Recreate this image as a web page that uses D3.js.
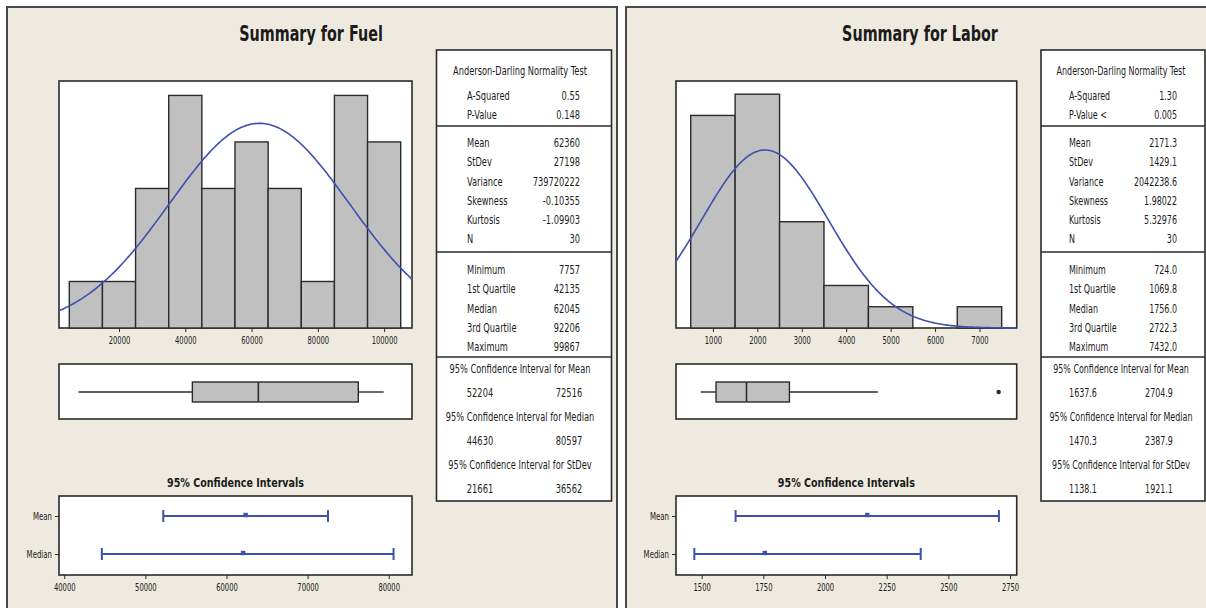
<!DOCTYPE html>
<html><head>
<meta charset="utf-8">
<title>Summary for Fuel / Labor</title>
<script src="https://d3js.org/d3.v7.min.js"></script>
<style>
  body { margin: 0; background: #fff; }
  text { font-family: 'DejaVu Sans Condensed', 'DejaVu Sans', sans-serif; fill: #1b1b1b; }
</style>
</head>
<body>
<svg id="chart" width="1206" height="608"></svg>
<script>
// ---------- data ----------
// histogram bin mid points and counts
var fuelBins = [10000, 20000, 30000, 40000, 50000, 60000, 70000, 80000, 90000, 100000];
var fuelCounts = [1, 1, 3, 5, 3, 4, 3, 1, 5, 4];
var laborBins = [1000, 2000, 3000, 4000, 5000, 6000, 7000];
var laborCounts = [10, 11, 5, 2, 1, 0, 1];

// tick labels
var fuelHistTicks = [20000, 40000, 60000, 80000, 100000];
var laborHistTicks = [1000, 2000, 3000, 4000, 5000, 6000, 7000];
var fuelCITicks = [40000, 50000, 60000, 70000, 80000];
var laborCITicks = [1500, 1750, 2000, 2250, 2500, 2750];

// fitted normal: mean, stdev
var fuelNormal = [62360, 27198];
var laborNormal = [2171.3, 1429.1];

// box plot: low whisker, Q1, median, Q3, high whisker
var fuelBox = [7757, 42135, 62045, 92206, 99867];
var laborBox = [724, 1069.8, 1756.0, 2722.3, 4710];
var fuelOutliers = [];
var laborOutliers = [7432];

// 95% confidence intervals: [low, high, estimate]
var ciRows = ["Mean", "Median"];
var fuelCI = [[52204, 72516, 62360], [44630, 80597, 62045]];
var laborCI = [[1637.6, 2704.9, 2171.3], [1470.3, 2387.9, 1756.0]];

// summary table text
var adTitle = "Anderson-Darling Normality Test";
var fuelADLabels = ["A-Squared", "P-Value"];
var laborADLabels = ["A-Squared", "P-Value <"];
var fuelAD = ["0.55", "0.148"];
var laborAD = ["1.30", "0.005"];
var descLabels = ["Mean", "StDev", "Variance", "Skewness", "Kurtosis", "N"];
var fuelDesc = ["62360", "27198", "739720222", "-0.10355", "-1.09903", "30"];
var laborDesc = ["2171.3", "1429.1", "2042238.6", "1.98022", "5.32976", "30"];
var quartLabels = ["Minimum", "1st Quartile", "Median", "3rd Quartile", "Maximum"];
var fuelQuart = ["7757", "42135", "62045", "92206", "99867"];
var laborQuart = ["724.0", "1069.8", "1756.0", "2722.3", "7432.0"];
var ciTitles = ["95% Confidence Interval for Mean", "95% Confidence Interval for Median", "95% Confidence Interval for StDev"];
var fuelCIText = [["52204", "72516"], ["44630", "80597"], ["21661", "36562"]];
var laborCIText = [["1637.6", "2704.9"], ["1470.3", "2387.9"], ["1138.1", "1921.1"]];

// ---------- drawing ----------
var svg = d3.select("#chart");
var DARK = "#2b2b2b", BLUE = "#3f4fae", GREY = "#c0c0c0", BG = "#eeeae0";

// the original font is a squeezed Tahoma: squeeze glyphs horizontally around their anchor x
function squeeze(sel, k) {
  sel.each(function() {
    var x0 = +this.getAttribute("x") || 0;
    d3.select(this).attr("transform",
      "translate(" + x0 + ",0) scale(" + k + ",1) translate(" + (-x0) + ",0)");
  });
}

function panel(o) {
  var g = svg.append("g");

  // panel background + border
  g.append("rect")
    .attr("x", o.panel[0]).attr("y", 7)
    .attr("width", o.panel[1] - o.panel[0]).attr("height", 640)
    .attr("fill", BG).attr("stroke", "#4a4a4a").attr("stroke-width", 2);

  g.append("text")
    .attr("x", o.titleX).attr("y", 41)
    .attr("text-anchor", "middle")
    .style("font-size", "21px").style("font-weight", "bold")
    .text(o.title)
    .call(squeeze, 0.76);

  // ----- histogram -----
  var x = d3.scaleLinear().domain(o.xDom).range(o.frame);
  var y = d3.scaleLinear().domain([0, o.yMax]).range([328, 81]);
  var bw = o.bins[1] - o.bins[0];

  g.append("rect")
    .attr("x", o.frame[0]).attr("y", 81)
    .attr("width", o.frame[1] - o.frame[0]).attr("height", 247)
    .attr("fill", "#fff").attr("stroke", DARK).attr("stroke-width", 1.6);

  var bars = o.bins.map(function(b, i) { return {mid: b, c: o.counts[i]}; })
    .filter(function(d) { return d.c > 0; });

  g.selectAll(".bar").data(bars).enter().append("rect")
    .attr("x", function(d) { return x(d.mid - bw / 2); })
    .attr("y", function(d) { return y(d.c); })
    .attr("width", function(d) { return x(d.mid + bw / 2) - x(d.mid - bw / 2); })
    .attr("height", function(d) { return y(0) - y(d.c); })
    .attr("fill", GREY).attr("stroke", DARK).attr("stroke-width", 1.4);

  // fitted normal curve, scaled to counts
  var mu = o.normal[0], sd = o.normal[1], n = d3.sum(o.counts);
  var xs = d3.range(0, 241).map(function(i) { return o.xDom[0] + (o.xDom[1] - o.xDom[0]) * i / 240; });
  var curve = d3.line()
    .x(function(v) { return x(v); })
    .y(function(v) { return y(n * bw * Math.exp(-0.5 * Math.pow((v - mu) / sd, 2)) / (sd * Math.sqrt(2 * Math.PI))); });
  g.append("path").datum(xs)
    .attr("d", curve)
    .attr("fill", "none").attr("stroke", BLUE).attr("stroke-width", 1.6);

  var hx = g.append("g")
    .attr("transform", "translate(0,328)")
    .call(d3.axisBottom(x).tickValues(o.histTicks).tickSize(4).tickSizeOuter(0).tickFormat(d3.format("d")));
  hx.select(".domain").remove();
  hx.selectAll("line").attr("stroke", DARK);
  hx.selectAll("text").attr("font-family", null).style("font-size", "10.5px").attr("dy", "0.85em")
    .call(squeeze, 0.72);

  // ----- box plot -----
  g.append("rect")
    .attr("x", o.frame[0]).attr("y", 364)
    .attr("width", o.frame[1] - o.frame[0]).attr("height", 55)
    .attr("fill", "#fff").attr("stroke", DARK).attr("stroke-width", 1.6);

  var bx = o.box;
  g.append("line").attr("x1", x(bx[0])).attr("x2", x(bx[1])).attr("y1", 392).attr("y2", 392)
    .attr("stroke", DARK).attr("stroke-width", 1.4);
  g.append("line").attr("x1", x(bx[3])).attr("x2", x(bx[4])).attr("y1", 392).attr("y2", 392)
    .attr("stroke", DARK).attr("stroke-width", 1.4);
  g.append("rect")
    .attr("x", x(bx[1])).attr("y", 382)
    .attr("width", x(bx[3]) - x(bx[1])).attr("height", 20)
    .attr("fill", GREY).attr("stroke", DARK).attr("stroke-width", 1.4);
  g.append("line").attr("x1", x(bx[2])).attr("x2", x(bx[2])).attr("y1", 382).attr("y2", 402)
    .attr("stroke", DARK).attr("stroke-width", 1.6);
  g.selectAll(".out").data(o.outliers).enter().append("circle")
    .attr("cx", function(d) { return x(d); }).attr("cy", 392).attr("r", 2.2)
    .attr("fill", DARK);

  // ----- confidence intervals -----
  var cx = d3.scaleLinear().domain(o.ciDom).range(o.frame);
  var cy = d3.scalePoint().domain(ciRows).range([516, 554]);

  g.append("text")
    .attr("x", (o.frame[0] + o.frame[1]) / 2).attr("y", 487)
    .attr("text-anchor", "middle")
    .style("font-size", "12.5px").style("font-weight", "bold")
    .text("95% Confidence Intervals")
    .call(squeeze, 0.85);

  g.append("rect")
    .attr("x", o.frame[0]).attr("y", 496)
    .attr("width", o.frame[1] - o.frame[0]).attr("height", 79)
    .attr("fill", "#fff").attr("stroke", DARK).attr("stroke-width", 1.6);

  var rows = g.selectAll(".ci").data(o.ci).enter().append("g")
    .attr("transform", function(d, i) { return "translate(0," + cy(ciRows[i]) + ")"; });
  rows.append("line")
    .attr("x1", function(d) { return cx(d[0]); }).attr("x2", function(d) { return cx(d[1]); })
    .attr("stroke", BLUE).attr("stroke-width", 2);
  rows.append("line")
    .attr("x1", function(d) { return cx(d[0]); }).attr("x2", function(d) { return cx(d[0]); })
    .attr("y1", -6).attr("y2", 6).attr("stroke", BLUE).attr("stroke-width", 2);
  rows.append("line")
    .attr("x1", function(d) { return cx(d[1]); }).attr("x2", function(d) { return cx(d[1]); })
    .attr("y1", -6).attr("y2", 6).attr("stroke", BLUE).attr("stroke-width", 2);
  rows.append("rect")
    .attr("x", function(d) { return cx(d[2]) - 2.2; }).attr("y", -3.2)
    .attr("width", 4.4).attr("height", 4.4).attr("fill", BLUE);

  var ly = g.append("g")
    .attr("transform", "translate(" + o.frame[0] + ",0)")
    .call(d3.axisLeft(cy).tickSize(4).tickSizeOuter(0));
  ly.select(".domain").remove();
  ly.selectAll("line").attr("stroke", DARK);
  ly.selectAll("text").attr("font-family", null).style("font-size", "10.5px")
    .call(squeeze, 0.74);

  var bxAxis = g.append("g")
    .attr("transform", "translate(0,575)")
    .call(d3.axisBottom(cx).tickValues(o.ciTicks).tickSize(4).tickSizeOuter(0).tickFormat(d3.format("d")));
  bxAxis.select(".domain").remove();
  bxAxis.selectAll("line").attr("stroke", DARK);
  bxAxis.selectAll("text").attr("font-family", null).style("font-size", "10.5px").attr("dy", "0.85em")
    .call(squeeze, 0.72);

  // ----- summary table -----
  var t = o.table;
  g.append("rect")
    .attr("x", t[0]).attr("y", 50)
    .attr("width", t[1] - t[0]).attr("height", 451)
    .attr("fill", "#fff").attr("stroke", DARK).attr("stroke-width", 1.6);
  [126, 252, 357].forEach(function(yy) {
    g.append("line").attr("x1", t[0]).attr("x2", t[1]).attr("y1", yy).attr("y2", yy)
      .attr("stroke", DARK).attr("stroke-width", 1.6);
  });

  var tx = g.append("g").style("font-size", "11.5px");
  tx.append("text").attr("x", o.textC).attr("y", 75).attr("text-anchor", "middle").text(adTitle);

  function pairs(labels, values, y0) {
    labels.forEach(function(l, i) {
      tx.append("text").attr("x", o.labelX).attr("y", y0 + i * 19.3).text(l);
      tx.append("text").attr("x", o.valueX).attr("y", y0 + i * 19.3).attr("text-anchor", "end").text(values[i]);
    });
  }
  pairs(o.adLabels, o.ad, 100);
  pairs(descLabels, o.desc, 147);
  pairs(quartLabels, o.quart, 274);

  ciTitles.forEach(function(s, i) {
    var y0 = 373 + i * 48;
    tx.append("text").attr("x", o.textC).attr("y", y0).attr("text-anchor", "middle").text(s);
    tx.append("text").attr("x", o.ciValX[0]).attr("y", y0 + 24).attr("text-anchor", "middle").text(o.ciText[i][0]);
    tx.append("text").attr("x", o.ciValX[1]).attr("y", y0 + 24).attr("text-anchor", "middle").text(o.ciText[i][1]);
  });
  tx.selectAll("text").call(squeeze, o.tableK);
}

panel({
  title: "Summary for Fuel", titleX: 311, panel: [7, 617],
  frame: [59, 412], xDom: [1892, 108410], yMax: 5.31, ciDom: [39350, 82870],
  bins: fuelBins, counts: fuelCounts, normal: fuelNormal, histTicks: fuelHistTicks,
  box: fuelBox, outliers: fuelOutliers, ci: fuelCI, ciTicks: fuelCITicks,
  table: [436.5, 611.5], textC: 520, labelX: 467, valueX: 580, ciValX: [480, 569], tableK: 0.8,
  adLabels: fuelADLabels, ad: fuelAD, desc: fuelDesc, quart: fuelQuart, ciText: fuelCIText
});

panel({
  title: "Summary for Labor", titleX: 920, panel: [626, 1220],
  frame: [676, 1016.7], xDom: [169, 7838], yMax: 11.62, ciDom: [1396, 2777],
  bins: laborBins, counts: laborCounts, normal: laborNormal, histTicks: laborHistTicks,
  box: laborBox, outliers: laborOutliers, ci: laborCI, ciTicks: laborCITicks,
  table: [1041, 1205], textC: 1121, labelX: 1069, valueX: 1177, ciValX: [1083, 1159], tableK: 0.77,
  adLabels: laborADLabels, ad: laborAD, desc: laborDesc, quart: laborQuart, ciText: laborCIText
});
</script>
</body></html>
